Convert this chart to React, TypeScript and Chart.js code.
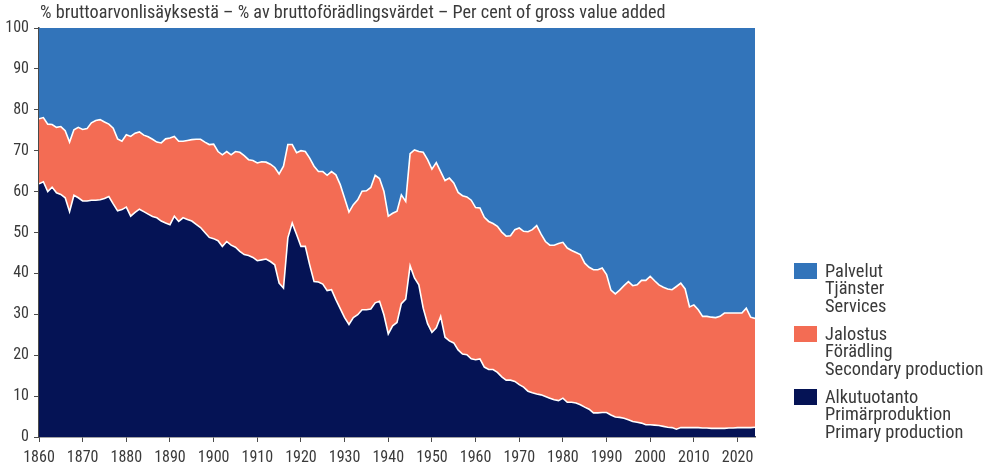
import React, { useEffect, useRef } from "react";
import { Chart, registerables } from "chart.js";

Chart.register(...registerables);

const startYear = 1860;
const endYear = 2024;

// Alkutuotanto / Primärproduktion / Primary production (% of GVA)
const primary = [
  61.9, 62.4, 60.0, 61.1, 59.7, 59.3, 58.5, 55.1, 59.1, 58.5,
  57.7, 57.7, 57.9, 57.9, 58.0, 58.3, 58.8, 57.0, 55.3, 55.6,
  56.2, 54.0, 54.9, 55.7, 55.1, 54.5, 53.9, 53.6, 52.8, 52.3,
  51.9, 54.0, 52.7, 53.6, 53.2, 52.8, 52.0, 51.2, 50.0, 48.8,
  48.5, 48.0, 46.6, 47.8, 46.9, 46.4, 45.4, 44.6, 44.4, 43.9,
  43.1, 43.3, 43.5, 42.9, 42.1, 37.6, 36.4, 48.7, 52.3, 49.5,
  46.6, 46.6, 42.1, 38.0, 37.9, 37.4, 35.8, 36.0, 33.6, 31.4,
  29.2, 27.5, 29.2, 29.9, 31.1, 31.1, 31.3, 32.8, 33.2, 29.9,
  25.2, 27.2, 28.0, 32.6, 33.7, 41.9, 38.9, 37.2, 31.5, 27.7,
  25.6, 26.7, 29.5, 24.4, 23.5, 23.0, 21.3, 20.3, 20.1, 19.1,
  18.9, 19.1, 17.1, 16.5, 16.5, 15.8, 14.7, 13.9, 13.9, 13.6,
  12.8, 12.2, 11.2, 10.8, 10.5, 10.3, 9.9, 9.5, 9.1, 8.9,
  9.5, 8.5, 8.5, 8.3, 7.9, 7.3, 6.8, 5.9, 5.9, 6.0,
  6.0, 5.4, 4.9, 4.8, 4.6, 4.2, 3.8, 3.6, 3.4, 3.0,
  3.0, 2.9, 2.8, 2.6, 2.4, 2.3, 1.9, 2.3, 2.3, 2.3,
  2.3, 2.3, 2.2, 2.2, 2.1, 2.1, 2.1, 2.1, 2.2, 2.2,
  2.3, 2.3, 2.3, 2.3, 2.4,
];

// Jalostus / Förädling / Secondary production
const secondary = [
  15.9, 15.7, 16.5, 15.3, 16.0, 16.6, 16.4, 17.0, 16.0, 17.2,
  17.5, 17.7, 18.9, 19.5, 19.6, 18.7, 17.7, 18.5, 17.6, 16.7,
  17.7, 19.5, 19.4, 18.9, 18.7, 18.9, 18.9, 18.5, 19.1, 20.6,
  21.2, 19.5, 19.6, 18.7, 19.3, 19.9, 20.8, 21.6, 22.1, 22.7,
  23.1, 21.8, 22.4, 22.0, 22.1, 23.4, 24.2, 24.2, 23.4, 23.7,
  23.9, 24.0, 23.7, 23.8, 23.8, 26.7, 29.8, 22.8, 19.2, 20.0,
  23.4, 23.2, 26.1, 28.2, 27.0, 27.5, 28.2, 28.9, 30.5, 30.3,
  29.2, 27.5, 27.6, 28.1, 29.0, 29.1, 29.7, 31.2, 30.0, 30.2,
  28.8, 27.5, 27.2, 26.6, 23.9, 27.4, 31.3, 32.6, 38.1, 40.1,
  39.9, 40.4, 35.4, 38.3, 39.8, 39.1, 38.5, 38.7, 38.6, 38.8,
  37.2, 36.9, 36.6, 36.2, 35.7, 35.7, 35.4, 35.2, 35.3, 37.1,
  38.3, 38.1, 39.0, 39.9, 41.2, 39.3, 37.9, 37.4, 37.8, 38.4,
  38.1, 37.7, 37.1, 36.8, 36.7, 35.2, 34.7, 35.0, 35.0, 35.3,
  33.7, 30.5, 30.1, 31.1, 32.4, 33.8, 33.2, 33.6, 34.9, 35.3,
  36.3, 35.3, 34.4, 34.0, 33.8, 33.7, 34.9, 35.3, 33.9, 29.5,
  30.0, 28.8, 27.3, 27.3, 27.2, 27.1, 27.4, 28.2, 28.1, 28.1,
  28.0, 28.0, 29.2, 27.0, 26.6,
];

// Palvelut / Tjänster / Services
const services = [
  22.2, 21.9, 23.5, 23.6, 24.3, 24.1, 25.1, 27.9, 24.9, 24.3,
  24.8, 24.6, 23.2, 22.6, 22.4, 23.0, 23.5, 24.5, 27.1, 27.7,
  26.1, 26.5, 25.7, 25.4, 26.2, 26.6, 27.2, 27.9, 28.1, 27.1,
  26.9, 26.5, 27.7, 27.7, 27.5, 27.3, 27.2, 27.2, 27.9, 28.5,
  28.4, 30.2, 31.0, 30.2, 31.0, 30.2, 30.4, 31.2, 32.2, 32.4,
  33.0, 32.7, 32.8, 33.3, 34.1, 35.7, 33.8, 28.5, 28.5, 30.5,
  30.0, 30.2, 31.8, 33.8, 35.1, 35.1, 36.0, 35.1, 35.9, 38.3,
  41.6, 45.0, 43.2, 42.0, 39.9, 39.8, 39.0, 36.0, 36.8, 39.9,
  46.0, 45.3, 44.8, 40.8, 42.4, 30.7, 29.8, 30.2, 30.4, 32.2,
  34.5, 32.9, 35.1, 37.3, 36.7, 37.9, 40.2, 41.0, 41.3, 42.1,
  43.9, 44.0, 46.3, 47.3, 47.8, 48.5, 49.9, 50.9, 50.8, 49.3,
  48.9, 49.7, 49.8, 49.3, 48.3, 50.4, 52.2, 53.1, 53.1, 52.7,
  52.4, 53.8, 54.4, 54.9, 55.4, 57.5, 58.5, 59.1, 59.1, 58.7,
  60.3, 64.1, 65.0, 64.1, 63.0, 62.0, 63.0, 62.8, 61.7, 61.7,
  60.7, 61.8, 62.8, 63.4, 63.8, 64.0, 63.2, 62.4, 63.8, 68.2,
  67.7, 68.9, 70.5, 70.5, 70.7, 70.8, 70.5, 69.7, 69.7, 69.7,
  69.7, 69.7, 68.5, 70.7, 71.0,
];

const years = Array.from({ length: primary.length }, (_, i) => startYear + i);

const yTicks = [0, 10, 20, 30, 40, 50, 60, 70, 80, 90, 100];

const titleText =
  "% bruttoarvonlisäyksestä – % av bruttoförädlingsvärdet – Per cent of gross value added";

const legendItems = [
  { lines: ["Palvelut", "Tjänster", "Services"], color: "#3274BA" },
  { lines: ["Jalostus", "Förädling", "Secondary production"], color: "#F36C54" },
  { lines: ["Alkutuotanto", "Primärproduktion", "Primary production"], color: "#051355" },
];

const FONT = "'Liberation Sans Narrow', 'Roboto Condensed', 'DejaVu Sans Condensed', sans-serif";
const TEXT = "#3a3a3a";
const AXIS = "#4a4a4a";

export default function App() {
  const canvasRef = useRef<HTMLCanvasElement | null>(null);

  useEffect(() => {
    const canvas = canvasRef.current;
    if (!canvas) return;
    const toPts = (arr: number[]) => arr.map((v, i) => ({ x: years[i], y: v }));
    const chart = new Chart(canvas, {
      type: "line",
      data: {
        datasets: [
          {
            label: "Alkutuotanto",
            data: toPts(primary),
            backgroundColor: "#051355",
            borderColor: "#ffffff",
            borderWidth: 1.6,
            fill: "origin",
            pointRadius: 0,
            tension: 0,
          },
          {
            label: "Jalostus",
            data: toPts(secondary),
            backgroundColor: "#F36C54",
            borderColor: "#ffffff",
            borderWidth: 1.6,
            fill: "-1",
            pointRadius: 0,
            tension: 0,
          },
          {
            label: "Palvelut",
            data: toPts(services),
            backgroundColor: "#3274BA",
            borderColor: "#3274BA",
            borderWidth: 0,
            fill: "-1",
            pointRadius: 0,
            tension: 0,
          },
        ],
      },
      options: {
        animation: false,
        responsive: false,
        maintainAspectRatio: false,
        layout: { padding: { left: 0, right: 232, top: 28, bottom: 0 } },
        plugins: {
          legend: { display: false },
          tooltip: { enabled: false },
          title: { display: false },
        },
        scales: {
          x: {
            type: "linear",
            min: startYear,
            max: endYear,
            afterFit: (s: any) => {
              s.height = 32;
            },
            ticks: {
              stepSize: 10,
              includeBounds: false,
              autoSkip: false,
              maxRotation: 0,
              padding: 6,
              color: TEXT,
              font: { family: FONT, size: 16 },
              callback: (v: any) => String(v),
            },
            grid: {
              drawOnChartArea: false,
              drawTicks: true,
              tickLength: 5,
              color: AXIS,
            },
            border: { display: true, color: AXIS, width: 1.5 },
          },
          y: {
            stacked: true,
            min: 0,
            max: 100,
            afterFit: (s: any) => {
              s.width = 39;
            },
            afterBuildTicks: (s: any) => {
              s.ticks = yTicks.map((v) => ({ value: v }));
            },
            ticks: {
              padding: 5,
              color: TEXT,
              font: { family: FONT, size: 16 },
              callback: (v: any) => String(v),
            },
            grid: {
              drawOnChartArea: false,
              drawTicks: true,
              tickLength: 5,
              color: AXIS,
            },
            border: { display: true, color: AXIS, width: 1.5 },
          },
        },
      },
    });
    return () => chart.destroy();
  }, []);

  return (
    <div
      style={{
        position: "absolute",
        left: 0,
        top: 0,
        width: 987,
        height: 469,
        background: "#ffffff",
        fontFamily: FONT,
        color: TEXT,
        overflow: "hidden",
      }}
    >
      <canvas ref={canvasRef} width={987} height={469} style={{ position: "absolute", left: 0, top: 0 }} />
      <div
        style={{
          position: "absolute",
          left: 40,
          top: 2,
          fontSize: 18.2,
          lineHeight: "20px",
          whiteSpace: "nowrap",
        }}
      >
        {titleText}
      </div>
      {legendItems.map((item, i) => (
        <div
          key={i}
          style={{ position: "absolute", left: 794, top: 262 + i * 63, display: "flex", alignItems: "flex-start" }}
        >
          <div style={{ width: 23, height: 16, background: item.color, marginTop: 1 }} />
          <div style={{ marginLeft: 8, fontSize: 18.4, lineHeight: "17.4px", marginTop: 0 }}>
            {item.lines.map((l, j) => (
              <div key={j} style={{ whiteSpace: "nowrap" }}>
                {l}
              </div>
            ))}
          </div>
        </div>
      ))}
    </div>
  );
}
